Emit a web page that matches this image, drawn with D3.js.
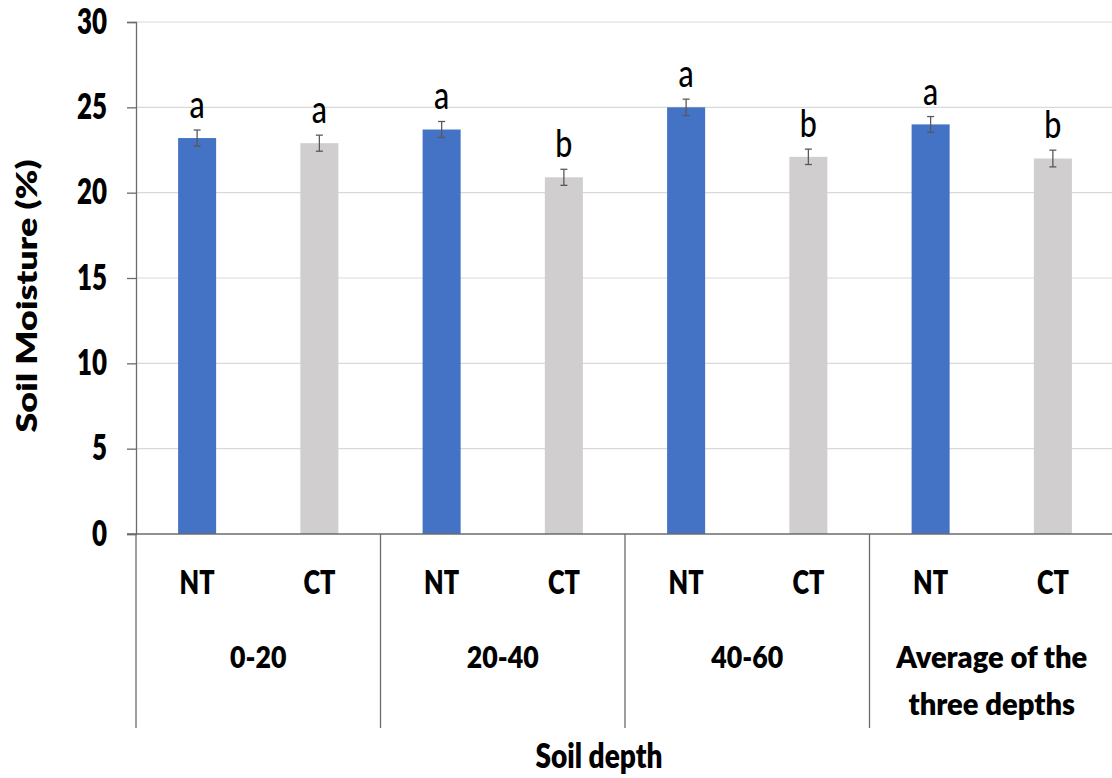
<!DOCTYPE html>
<html>
<head>
<meta charset="utf-8">
<script src="https://cdn.jsdelivr.net/npm/d3@7"></script>
<style>
  html, body { margin: 0; padding: 0; background: #fff; }
  svg { display: block; }
  text { font-family: Lato, "Open Sans", sans-serif; fill: #000; }
</style>
</head>
<body>
<svg id="chart" width="1112" height="778"></svg>
<script>
// ---- data ----
const groupLabels = [["0-20"], ["20-40"], ["40-60"], ["Average of the", "three depths"]];
const treatments = ["NT", "CT"];
const ntValues = [23.2, 23.7, 25.0, 24.0];
const ctValues = [22.9, 20.9, 22.1, 22.0];
const ntErrors = [0.47, 0.47, 0.48, 0.46];
const ctErrors = [0.47, 0.47, 0.45, 0.49];
const ntLetters = ["a", "a", "a", "a"];
const ctLetters = ["a", "b", "b", "b"];
const yTicks = [0, 5, 10, 15, 20, 25, 30];
const yTitle = "Soil Moisture (%)";
const xTitle = "Soil depth";
const colors = { NT: "#4472C4", CT: "#D0CECE" };

// build bar table
const bars = [];
groupLabels.forEach((g, i) => {
  bars.push({ group: i, trt: "NT", value: ntValues[i], err: ntErrors[i], letter: ntLetters[i] });
  bars.push({ group: i, trt: "CT", value: ctValues[i], err: ctErrors[i], letter: ctLetters[i] });
});

// ---- layout ----
const mLeft = 136, mRight = 1114, mTop = 22, mBottom = 534;
const BOLD = 800;
const svg = d3.select("#chart");

const y = d3.scaleLinear().domain([0, 30]).range([mBottom, mTop]);
const x = d3.scaleBand().domain(d3.range(bars.length)).range([mLeft, mRight])
  .paddingInner(0.689).paddingOuter(0.3445);
const gx = d3.scaleBand().domain(d3.range(groupLabels.length)).range([mLeft, mRight]);

function squeeze(sel, f) {
  sel.each(function () {
    const w = this.getComputedTextLength();
    d3.select(this).attr("textLength", w * f).attr("lengthAdjust", "spacingAndGlyphs");
  });
}

// gridlines
svg.append("g").selectAll("line").data(yTicks.filter(t => t > 0)).join("line")
  .attr("x1", mLeft).attr("x2", mRight)
  .attr("y1", d => y(d)).attr("y2", d => y(d))
  .attr("stroke", "#d9d9d9").attr("stroke-width", 1.2);

// y axis
const yAxis = svg.append("g").attr("transform", `translate(${mLeft},0)`)
  .call(d3.axisLeft(y).tickValues(yTicks).tickSize(9).tickPadding(20).tickFormat(d3.format("d")));
yAxis.select(".domain").attr("stroke", "#6b6b6b").attr("stroke-width", 1.3);
yAxis.selectAll(".tick line").attr("stroke", "#6b6b6b").attr("stroke-width", 1.3);
yAxis.selectAll(".tick text")
  .style("font-family", "Lato, sans-serif").style("font-weight", BOLD)
  .style("font-size", "35px").attr("fill", "#000");
squeeze(yAxis.selectAll(".tick text"), 0.74);

// bars
svg.append("g").selectAll("rect").data(bars).join("rect")
  .attr("x", (d, i) => x(i)).attr("width", x.bandwidth())
  .attr("y", d => y(d.value)).attr("height", d => y(0) - y(d.value))
  .attr("fill", d => colors[d.trt]);

// error bars
const eb = svg.append("g").attr("stroke", "#595959").attr("stroke-width", 1.3);
bars.forEach((d, i) => {
  const cx = x(i) + x.bandwidth() / 2;
  eb.append("line").attr("x1", cx).attr("x2", cx).attr("y1", y(d.value + d.err)).attr("y2", y(d.value - d.err));
  eb.append("line").attr("x1", cx - 3.5).attr("x2", cx + 3.5).attr("y1", y(d.value + d.err)).attr("y2", y(d.value + d.err));
  eb.append("line").attr("x1", cx - 3.5).attr("x2", cx + 3.5).attr("y1", y(d.value - d.err)).attr("y2", y(d.value - d.err));
});

// significance letters
const letters = svg.append("g").selectAll("text").data(bars).join("text")
  .attr("x", (d, i) => x(i) + x.bandwidth() / 2)
  .attr("y", d => y(d.value + d.err) - 12)
  .attr("text-anchor", "middle")
  .style("font-size", "39px").style("font-weight", 500)
  .text(d => d.letter);
squeeze(letters, 0.78);

// x axis line
svg.append("line").attr("x1", mLeft - 9).attr("x2", mRight)
  .attr("y1", mBottom).attr("y2", mBottom)
  .attr("stroke", "#6b6b6b").attr("stroke-width", 1.3);

// group separators
svg.append("g").selectAll("line").data(d3.range(groupLabels.length + 1)).join("line")
  .attr("x1", d => mLeft + d * gx.step()).attr("x2", d => mLeft + d * gx.step())
  .attr("y1", mBottom).attr("y2", 728)
  .attr("stroke", "#6b6b6b").attr("stroke-width", 1.3);

// treatment labels
const trtLabels = svg.append("g").selectAll("text").data(bars).join("text")
  .attr("x", (d, i) => x(i) + x.bandwidth() / 2)
  .attr("y", 594)
  .attr("text-anchor", "middle")
  .style("font-size", "32px").style("font-weight", BOLD)
  .text(d => d.trt);
squeeze(trtLabels, 0.79);

// group labels
const gl = svg.append("g");
groupLabels.forEach((lines, i) => {
  lines.forEach((ln, j) => {
    const t = gl.append("text")
      .attr("x", gx(i) + gx.bandwidth() / 2)
      .attr("y", 668 + j * 47)
      .attr("text-anchor", "middle")
      .style("font-size", "31px").style("font-weight", BOLD)
      .text(ln);
    squeeze(t, /[a-z]/i.test(ln) ? 0.94 : 0.86);
  });
});

// axis titles
const yt = svg.append("text")
  .attr("transform", "translate(37,296) rotate(-90)")
  .attr("text-anchor", "middle")
  .style("font-size", "28px").style("font-weight", BOLD)
  .text(yTitle);
yt.attr("textLength", 273).attr("lengthAdjust", "spacingAndGlyphs");

const xt = svg.append("text")
  .attr("x", 599).attr("y", 768)
  .attr("text-anchor", "middle")
  .style("font-size", "33px").style("font-weight", BOLD)
  .text(xTitle);
squeeze(xt, 0.85);
</script>
</body>
</html>
